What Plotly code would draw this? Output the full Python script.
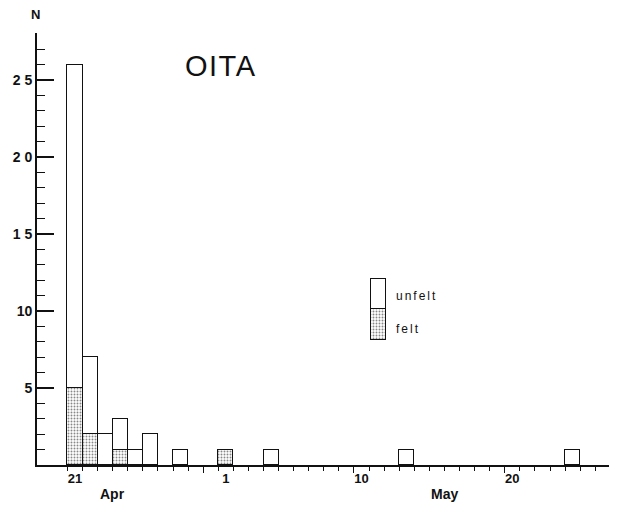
import plotly.graph_objects as go

# Days counted from 21 April (0 = Apr 21)
day_index = [0, 1, 2, 3, 4, 5, 7, 10, 13, 22, 33]
total = [26, 7, 2, 3, 1, 2, 1, 1, 1, 1, 1]
felt = [5, 2, 0, 1, 0, 0, 0, 1, 0, 0, 0]
unfelt = [t - f for t, f in zip(total, felt)]

x_tick_days = [0, 10, 19, 29]
x_tick_text = ["21", "1", "10", "20"]
x_major_marks = [9, 19, 29]
y_tick_vals = [5, 10, 15, 20, 25]
y_tick_text = ["5", "10", "1 5", "2 0", "2 5"]
month_labels = ["Apr", "May"]
month_days = [3, 25]
legend_labels = ["unfelt", "felt"]

INK = "#111111"
FONT = "Liberation Sans, Arial, sans-serif"
x_range = [-2.02, 36.44]

# figure sits inside the page's 8px body margin
OFF = 8
W, H = 617 - OFF, 505 - OFF
L, T, B, R = 37 - OFF, 33 - OFF, 505 - 465, 0
PW, PH = 617 - 37, 465 - 33


def px(xp):
    return (xp - 37) / PW


def py(yp):
    return (465 - yp) / PH


def spaced(s, sp):
    return '<span style="letter-spacing:%spx">%s</span>' % (sp, s)


xc = [d + 0.5 for d in day_index]
line = dict(color=INK, width=1.5)
pattern = dict(shape=".", size=3, solidity=0.32, fgcolor=INK, bgcolor="white", fillmode="overlay")

fig = go.Figure()
fig.add_trace(go.Bar(x=xc, y=felt, width=1, name="felt", showlegend=False,
                     marker=dict(color="white", line=line, pattern=pattern)))
fig.add_trace(go.Bar(x=xc, y=unfelt, width=1, name="unfelt", showlegend=False,
                     marker=dict(color="white", line=line)))
# empty trace so the overlay axis with the long ticks is drawn
fig.add_trace(go.Scatter(x=[None], y=[None], xaxis="x2", yaxis="y", showlegend=False,
                         hoverinfo="skip", mode="markers"))

# legend key drawn as a small stacked bar on its own axes
fig.add_trace(go.Bar(x=[0], y=[1], width=1, xaxis="x3", yaxis="y3", showlegend=False,
                     marker=dict(color="white", line=line, pattern=pattern), hoverinfo="skip"))
fig.add_trace(go.Bar(x=[0], y=[1], width=1, xaxis="x3", yaxis="y3", showlegend=False,
                     marker=dict(color="white", line=line), hoverinfo="skip"))

fig.update_layout(
    width=W, height=H,
    margin=dict(l=L, r=R, t=T, b=B, pad=0),
    paper_bgcolor="white", plot_bgcolor="white",
    barmode="stack", bargap=0,
    font=dict(family=FONT, color=INK, size=13),
    xaxis=dict(
        range=x_range, showgrid=False, zeroline=False,
        showline=True, linecolor=INK, linewidth=1.8,
        tickmode="array", tickvals=[d + 0.5 for d in x_tick_days], ticktext=x_tick_text,
        ticks="outside", ticklen=0, tickfont=dict(size=13, color=INK, weight="bold"),
        minor=dict(tickmode="array", tickvals=list(range(0, 37)), ticks="outside",
                   ticklen=4, tickwidth=1.2, tickcolor=INK),
    ),
    xaxis2=dict(
        range=x_range, overlaying="x", anchor="y", side="bottom",
        showgrid=False, zeroline=False, showline=False,
        tickmode="array", tickvals=x_major_marks, ticks="outside",
        ticklen=7, tickwidth=1.4, tickcolor=INK, showticklabels=False,
    ),
    yaxis=dict(
        range=[0, 28.05], showgrid=False, zeroline=False,
        showline=True, linecolor=INK, linewidth=1.8,
        tickmode="array", tickvals=y_tick_vals, ticktext=y_tick_text,
        ticks="inside", ticklen=17, tickwidth=1.6, tickcolor=INK,
        tickfont=dict(size=14, color=INK, weight="bold"),
        minor=dict(tickmode="array", tickvals=list(range(1, 28)), ticks="inside",
                   ticklen=8, tickwidth=1.4, tickcolor=INK),
    ),
    xaxis3=dict(domain=[px(369), px(388)], range=[-0.6, 0.6], anchor="y3", visible=False),
    yaxis3=dict(domain=[py(341), py(277)], range=[-0.03, 2.05], anchor="x3", visible=False),
)

annotations = [
    dict(text="N", xref="paper", yref="paper", x=px(35), y=py(15),
         xanchor="center", yanchor="middle",
         showarrow=False, font=dict(size=13, color=INK, weight="bold")),
    dict(text=spaced("OITA", 1.5), xref="paper", yref="paper", x=px(221), y=py(66),
         xanchor="center", yanchor="middle",
         showarrow=False, font=dict(size=29, color=INK)),
]
for lab, d in zip(month_labels, month_days):
    annotations.append(dict(text=lab, xref="x", yref="paper", x=d, y=py(494),
                            xanchor="center", yanchor="middle",
                            showarrow=False, font=dict(size=14, color=INK, weight="bold")))
annotations.append(dict(text=spaced(legend_labels[0], 2), xref="paper", yref="paper",
                        x=px(394), y=py(296), xanchor="left", yanchor="middle",
                        showarrow=False, font=dict(size=12, color=INK)))
annotations.append(dict(text=spaced(legend_labels[1], 2), xref="paper", yref="paper",
                        x=px(394), y=py(329), xanchor="left", yanchor="middle",
                        showarrow=False, font=dict(size=12, color=INK)))
fig.update_layout(annotations=annotations)

fig.write_html("out.html")
